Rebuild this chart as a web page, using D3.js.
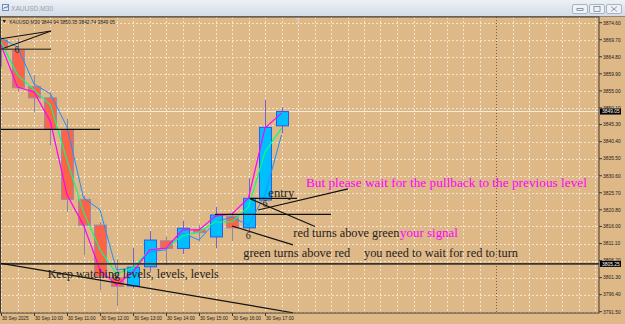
<!DOCTYPE html>
<html>
<head>
<meta charset="utf-8">
<script src="https://cdn.jsdelivr.net/npm/d3@7"></script>
<style>
  html, body { margin: 0; padding: 0; background: #deb887; overflow: hidden; }
  svg { display: block; }
</style>
</head>
<body>
<div id="chart"></div>
<script>
// XAUUSD M30, 30 Sep 2025
const times = ["09:00","09:30","10:00","10:30","11:00","11:30","12:00","12:30","13:00",
  "13:30","14:00","14:30","15:00","15:30","16:00","16:30","17:00","17:30"];
const opens  = [3869.6,3866.8,3856.2,3853.0,3843.8,3823.8,3816.4,3801.2,3798.9,3804.4,3811.9,3809.7,3815.1,3813.0,3819.0,3815.6,3823.6,3844.94];
const highs  = [3870.3,3870.3,3859.6,3854.5,3847.1,3824.8,3817.3,3806.6,3809.8,3814.7,3813.0,3817.6,3816.4,3821.7,3819.9,3829.9,3852.4,3850.35];
const lows   = [3861.9,3854.8,3848.8,3839.2,3820.3,3807.8,3797.6,3793.1,3798.2,3803.0,3804.7,3808.1,3811.6,3809.8,3811.8,3814.4,3823.1,3842.74];
const closes = [3867.3,3855.9,3853.0,3844.0,3823.8,3816.4,3801.5,3798.8,3804.3,3812.1,3809.7,3815.5,3814.2,3819.3,3815.6,3824.1,3844.5,3849.05];

// three moving averages (magenta = fast, green = middle, blue = slow/shifted)
const maFast = [3868.2,3856.1,3854.7,3846.1,3825.1,3816.4,3803.5,3799.2,3802.9,3809.3,3809.8,3815.0,3815.0,3819.0,3819.6,3824.2,3844.3,3848.6];
const maMid  = [3869.1,3859.6,3855.3,3850.9,3835.1,3820.2,3809.3,3802.4,3804.1,3809.3,3809.8,3813.3,3814.4,3817.3,3817.3,3821.6,3837.4,3844.3];
const maSlow = [3870.2,3867.6,3857.0,3854.1,3844.6,3824.2,3820.8,3803.5,3804.1,3808.7,3809.3,3814.1,3812.1,3817.3,3818.7,3816.4,3825.1,3842.3];

const priceTicks = [3874.60,3869.70,3864.80,3859.90,3855.00,3850.10,3845.30,3840.40,3835.50,
  3830.60,3825.70,3820.80,3816.00,3811.10,3806.20,3801.30,3796.40,3791.50];
const timeLabels = ["30 Sep 2025","30 Sep 10:00","30 Sep 11:00","30 Sep 12:00","30 Sep 13:00",
  "30 Sep 14:00","30 Sep 15:00","30 Sep 16:00","30 Sep 17:00"];

// drawn objects, anchored in (bar index, price)
const levelPrice = 3805.25;
const fanLines   = [[-0.1,3869.9,3.03,3872.2],[-0.1,3866.8,3.03,3872.2]];
const brownLine  = [[-0.1,3866.95,3.03,3866.95]];
const blackLines = [
  [-0.1,3843.95,6.0,3843.95],
  [-0.1,3805.5,17.7,3791.2],
  [15.09,3824.1,17.94,3824.1],
  [12.97,3819.5,20.0,3819.5],
  [15.58,3820.75,21.03,3826.8],
  [15.09,3824.0,19.03,3816.0],
  [14.0,3816.15,17.7,3810.7]
];
const noteTexts  = ["But please wait for the pullback to the previous level","red turns above green","your signal",
  "green turns above red","you need to wait for red to turn","Keep watching levels, levels, levels","entry"];
const noteIndex  = [18.48,17.72,24.18,14.68,22.0,2.83,16.2];
const notePrice  = [3827.44,3812.89,3812.89,3807.31,3807.31,3801.28,3824.48];
const noteWidths = [281,106,58,107,154,171,26];
const markIndex  = [0.97,6.9,14.99,16.0];
const markPrice  = [3865.9,3800.6,3812.4,3821.6];

const W = 625, H = 324;
const plotTop = 17, plotBottom = 313, plotRight = 599;

const svg = d3.select("#chart").append("svg")
  .attr("width", W).attr("height", H)
  .attr("viewBox", `0 0 ${W} ${H}`);

const x = d3.scaleLinear().domain([0, 36]).range([1, 595]);
const y = d3.scaleLinear().domain([3791.5, 3874.6]).range([311.7, 22.7]);

const defs = svg.append("defs");
const grad = defs.append("linearGradient").attr("id", "tb").attr("x1", 0).attr("x2", 0).attr("y1", 0).attr("y2", 1);
grad.append("stop").attr("offset", "0%").attr("stop-color", "#edf1f7");
grad.append("stop").attr("offset", "100%").attr("stop-color", "#d3dbe6");
defs.append("clipPath").attr("id", "plot")
  .append("rect").attr("x", 1).attr("y", plotTop).attr("width", plotRight - 1).attr("height", plotBottom - plotTop);

// window title bar
svg.append("rect").attr("width", W).attr("height", 16).attr("fill", "url(#tb)");
svg.append("rect").attr("x", 2.5).attr("y", 4.5).attr("width", 6).attr("height", 6)
  .attr("fill", "#e6eef8").attr("stroke", "#6f8db8");
svg.append("path").attr("d", "M3.5,9 L5,7 L6.5,8 L8,5.5").attr("fill", "none").attr("stroke", "#3c68b0").attr("stroke-width", 0.8);
svg.append("text").attr("x", 11).attr("y", 11).text("XAUUSD,M30")
  .attr("font-family", "Liberation Sans").attr("font-size", 6.6).attr("fill", "#98a1ad");
[572, 589, 606].forEach((bx, k) => {
  svg.append("rect").attr("x", bx + 0.5).attr("y", 4.5).attr("width", 15).attr("height", 9).attr("rx", 1.5)
    .attr("fill", "#eef1f6").attr("stroke", "#a9b3c1");
  const g = svg.append("g").attr("stroke", "#7a8594").attr("fill", "none").attr("stroke-width", 0.8);
  if (k === 0) g.append("rect").attr("x", bx + 5).attr("y", 8.5).attr("width", 6).attr("height", 2);
  if (k === 1) g.append("rect").attr("x", bx + 5).attr("y", 6.5).attr("width", 6).attr("height", 5);
  if (k === 2) g.append("path").attr("d", `M${bx+5},6.5 L${bx+11},11.5 M${bx+11},6.5 L${bx+5},11.5`);
});
svg.append("line").attr("x1", 0).attr("x2", W).attr("y1", 16.5).attr("y2", 16.5).attr("stroke", "#8a8780");

// grid
const plot = svg.append("g").attr("clip-path", "url(#plot)");
plot.selectAll(".hg").data(priceTicks).enter().append("line")
  .attr("x1", 0).attr("x2", plotRight).attr("y1", d => Math.round(y(d)) + 0.5).attr("y2", d => Math.round(y(d)) + 0.5)
  .attr("stroke", "#f3e4cc").attr("stroke-dasharray", "2,2");
plot.selectAll(".vg").data(d3.range(0, 37)).enter().append("line")
  .attr("x1", d => Math.round(x(d)) + 0.5).attr("x2", d => Math.round(x(d)) + 0.5)
  .attr("y1", plotTop).attr("y2", plotBottom)
  .attr("stroke", d => d === 30 ? "#6e5f4c" : "#f3e4cc")
  .attr("stroke-dasharray", d => d === 30 ? "1,2" : "2,2");

// bid line
const last = closes.length - 1;
plot.append("line").attr("x1", 0).attr("x2", plotRight)
  .attr("y1", y(closes[last])).attr("y2", y(closes[last]))
  .attr("stroke", "#f8eedc").attr("stroke-width", 1);

// header
svg.append("path").attr("d", "M2.5,20 L6,20 L4.25,23 Z").attr("fill", "#222");
svg.append("text").attr("x", 9).attr("y", 24)
  .text(`XAUUSD,M30  ${opens[last].toFixed(2)} ${highs[last].toFixed(2)} ${lows[last].toFixed(2)} ${closes[last].toFixed(2)}`)
  .attr("font-family", "Liberation Sans").attr("font-size", 5.4).attr("fill", "#222")
  .attr("textLength", 106).attr("lengthAdjust", "spacingAndGlyphs");

// chart shift marker
const sx = x(times.length);
svg.append("path").attr("d", `M${sx-2.5},18 L${sx+2.5},18 L${sx},21 Z`).attr("fill", "#cfcfcf");

// candles
const bars = d3.range(times.length);
const up = i => closes[i] >= opens[i];
plot.selectAll(".wick").data(bars).enter().append("line")
  .attr("x1", i => Math.round(x(i)) + 0.5).attr("x2", i => Math.round(x(i)) + 0.5)
  .attr("y1", i => y(highs[i])).attr("y2", i => y(lows[i]))
  .attr("stroke", i => up(i) ? "#7664d2" : "#8f86aa").attr("stroke-width", 1);
plot.selectAll(".body").data(bars).enter().append("rect")
  .attr("x", i => Math.round(x(i)) - 5.5)
  .attr("width", 12)
  .attr("y", i => y(Math.max(opens[i], closes[i])))
  .attr("height", i => Math.max(1, Math.abs(y(opens[i]) - y(closes[i]))))
  .attr("fill", i => up(i) ? "#00bfff" : "#ff6347")
  .attr("stroke", i => up(i) ? "#2a5cf0" : "#958cb0").attr("stroke-width", 1);

// moving averages
const maLine = d3.line().x((d, i) => x(i)).y(d => y(d));
plot.append("path").datum(maSlow).attr("d", maLine).attr("fill", "none").attr("stroke", "#1e90ff").attr("stroke-width", 1);
plot.append("path").datum(maMid).attr("d", maLine).attr("fill", "none").attr("stroke", "#00ff7f").attr("stroke-width", 1.2);
plot.append("path").datum(maFast).attr("d", maLine).attr("fill", "none").attr("stroke", "#ff00ff").attr("stroke-width", 1.2);

// drawn objects
const seg = (sel, data, color, width) => sel.selectAll(null).data(data).enter().append("line")
  .attr("x1", d => x(d[0])).attr("y1", d => y(d[1])).attr("x2", d => x(d[2])).attr("y2", d => y(d[3]))
  .attr("stroke", color).attr("stroke-width", width);
plot.append("line").attr("x1", 0).attr("x2", plotRight).attr("y1", y(levelPrice)).attr("y2", y(levelPrice))
  .attr("stroke", "#3a352f").attr("stroke-width", 1.8);
seg(plot.append("g"), fanLines, "#111", 1.1);
seg(plot.append("g"), brownLine, "#5c4e3e", 1.6);
seg(plot.append("g"), blackLines, "#111", 1.2);

plot.selectAll(".mark").data(markIndex).enter().append("text")
  .attr("x", (d, k) => x(d)).attr("y", (d, k) => y(markPrice[k]))
  .attr("text-anchor", "middle").text("6")
  .attr("font-family", "Liberation Serif").attr("font-size", 10).attr("fill", "#222");

const noteColor = k => (k === 0 || k === 2) ? "#ff00ff" : "#262220";
const noteSize = k => k === 0 ? 13 : (k === 2 ? 12.5 : 11.8);
plot.selectAll(".note").data(noteTexts).enter().append("text")
  .attr("x", (d, k) => x(noteIndex[k])).attr("y", (d, k) => y(notePrice[k]))
  .text(d => d)
  .attr("font-family", "Liberation Serif")
  .attr("font-size", (d, k) => noteSize(k))
  .attr("fill", (d, k) => noteColor(k))
  .attr("textLength", (d, k) => noteWidths[k]).attr("lengthAdjust", "spacingAndGlyphs");

// frame
svg.append("rect").attr("x", 0.5).attr("y", plotTop).attr("width", plotRight - 0.5).attr("height", plotBottom - plotTop)
  .attr("fill", "none").attr("stroke", "#3f3a33").attr("stroke-width", 1);

// price axis
const pa = svg.append("g");
pa.selectAll("line").data(priceTicks).enter().append("line")
  .attr("x1", plotRight).attr("x2", plotRight + 3).attr("y1", d => y(d)).attr("y2", d => y(d)).attr("stroke", "#3f3a33");
pa.selectAll("text").data(priceTicks).enter().append("text")
  .attr("x", 603).attr("y", d => y(d) + 1.8).text(d => d.toFixed(2))
  .attr("font-family", "Liberation Sans").attr("font-size", 4.9).attr("fill", "#222");
[closes[last], levelPrice].forEach(p => {
  pa.append("rect").attr("x", 600).attr("y", y(p) - 3).attr("width", 21).attr("height", 6).attr("fill", "#000");
  pa.append("text").attr("x", 602).attr("y", y(p) + 1.8).text(p.toFixed(2))
    .attr("font-family", "Liberation Sans").attr("font-size", 4.9).attr("fill", "#fff");
});

// time axis
const ta = svg.append("g");
ta.selectAll("line").data(timeLabels).enter().append("line")
  .attr("x1", (d, k) => Math.round(x(k * 2)) + 0.5).attr("x2", (d, k) => Math.round(x(k * 2)) + 0.5)
  .attr("y1", plotBottom).attr("y2", plotBottom + 3).attr("stroke", "#3f3a33");
ta.selectAll("text").data(timeLabels).enter().append("text")
  .attr("x", (d, k) => x(k * 2) + 1).attr("y", 320).text(d => d)
  .attr("font-family", "Liberation Sans").attr("font-size", 4.7).attr("fill", "#222");
</script>
</body>
</html>
